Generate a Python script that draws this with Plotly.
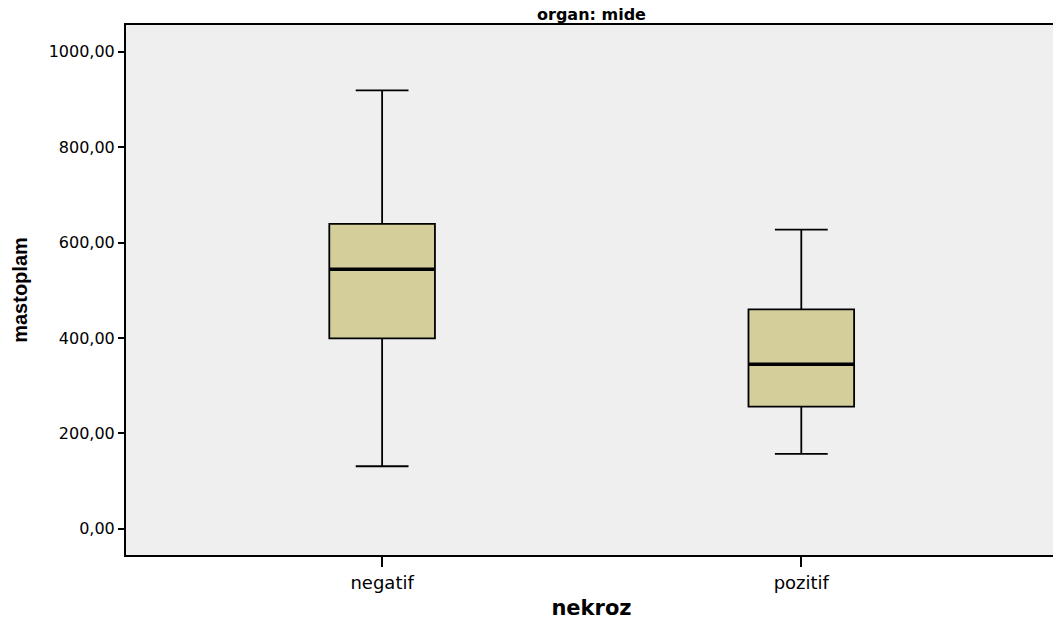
import plotly.graph_objects as go

categories = ["negatif", "pozitif"]
lower_whisker = [131, 157]
q1 = [399, 256]
median = [544, 345]
q3 = [639, 460]
upper_whisker = [919, 627]

y_tickvals = [0, 200, 400, 600, 800, 1000]
y_ticktext = ["0,00", "200,00", "400,00", "600,00", "800,00", "1000,00"]

box_w = 0.252
xs = list(range(len(categories)))

fig = go.Figure()
fig.add_trace(go.Box(
    x=xs, q1=q1, median=median, q3=q3,
    lowerfence=lower_whisker, upperfence=upper_whisker,
    width=box_w, whiskerwidth=0.5,
    fillcolor="#D3CE9A", line=dict(color="#000000", width=1.8),
    boxpoints=False, hoverinfo="skip", showlegend=False,
))
for i in xs:
    fig.add_trace(go.Scatter(
        x=[i - box_w / 2, i + box_w / 2], y=[median[i], median[i]],
        mode="lines", line=dict(color="#000000", width=3.5),
        showlegend=False, hoverinfo="skip",
    ))

H = 618
fig.update_layout(
    width=1053, height=H,
    margin=dict(l=118, r=2, t=17, b=71),
    paper_bgcolor="white", plot_bgcolor="#EFEFEF",
    font=dict(family="DejaVu Sans, Liberation Sans, Arial", color="#000000"),
    showlegend=False,
)
fig.add_annotation(
    text="<b>organ: mide</b>", xref="paper", yref="paper",
    x=0.5, y=1, xanchor="center", yanchor="bottom", yshift=0,
    showarrow=False, font=dict(size=16), borderpad=0,
)
fig.update_xaxes(
    range=[-0.611, 1.610], tickvals=xs, ticktext=categories,
    showgrid=False, zeroline=False,
    showline=True, linecolor="#000000", linewidth=2, mirror=True,
    ticks="outside", ticklen=10, tickwidth=2, tickcolor="#000000",
    tickfont=dict(size=18),
    title=dict(text="<b>nekroz</b>", font=dict(size=21), standoff=9),
)
fig.update_yaxes(
    range=[-55, 1056], tickvals=y_tickvals, ticktext=y_ticktext,
    showgrid=False, zeroline=False,
    showline=True, linecolor="#000000", linewidth=2, mirror=True,
    ticks="outside", ticklen=6, tickwidth=2, tickcolor="#000000",
    tickfont=dict(size=16),
    title=dict(text="<b>mastoplam</b>", font=dict(size=20, family="Liberation Sans Narrow, Liberation Sans, Arial"), standoff=16),
)

fig.write_html("out.html")
